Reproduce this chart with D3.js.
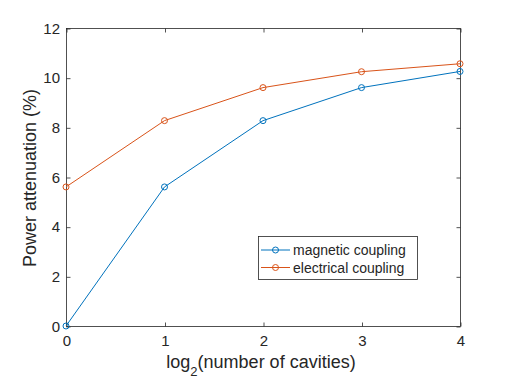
<!DOCTYPE html>
<html><head><meta charset="utf-8">
<script src="https://cdn.jsdelivr.net/npm/d3@7"></script>
<style>body{margin:0;background:#fff}svg{display:block}text{font-family:"Liberation Sans",Arial,sans-serif;fill:#262626}</style>
</head><body><svg id="c" width="508" height="382"></svg>
<script>
const xValues = [0, 1, 2, 3, 4];
const magnetic = [0, 5.6, 8.27, 9.6, 10.25];
const electrical = [5.6, 8.27, 9.6, 10.24, 10.56];
const seriesNames = ["magnetic coupling", "electrical coupling"];
const colors = ["#0072BD", "#D95319"];
const xTicks = [0, 1, 2, 3, 4];
const yTicks = [0, 2, 4, 6, 8, 10, 12];

const svg = d3.select("#c");
const L = 66, R = 460, T = 28, B = 326;
const x = d3.scaleLinear().domain([0, 4]).range([L, R]);
const y = d3.scaleLinear().domain([0, 12]).range([B, T]);
const axisColor = "#262626";

// box
svg.append("rect").attr("x", L + 0.5).attr("y", T + 0.5).attr("width", R - L).attr("height", B - T)
  .attr("fill", "none").attr("stroke", axisColor).attr("stroke-width", 0.8);

const g = svg.append("g");
const xa = g.append("g").attr("transform", `translate(0.5,${B + 0.5})`)
  .call(d3.axisBottom(x).tickValues(xTicks).tickFormat(d3.format("d")).tickSizeInner(-4).tickSizeOuter(0).tickPadding(9));
const ya = g.append("g").attr("transform", `translate(${L + 0.5},0.5)`)
  .call(d3.axisLeft(y).tickValues(yTicks).tickFormat(d3.format("d")).tickSizeInner(-4).tickSizeOuter(0).tickPadding(6.5));
const xt = g.append("g").attr("transform", `translate(0.5,${T + 0.5})`)
  .call(d3.axisTop(x).tickValues(xTicks).tickFormat("").tickSizeInner(-4).tickSizeOuter(0));
const yr = g.append("g").attr("transform", `translate(${R + 0.5},0.5)`)
  .call(d3.axisRight(y).tickValues(yTicks).tickFormat("").tickSizeInner(-4).tickSizeOuter(0));
[xa, ya, xt, yr].forEach(a => {
  a.select(".domain").remove();
  a.selectAll("line").attr("stroke", axisColor).attr("stroke-width", 0.8);
  a.selectAll("text").style("font-size", "15px").attr("fill", axisColor);
});

// labels
const xl = svg.append("text").attr("x", (L + R) / 2 - 2).attr("y", 368).attr("text-anchor", "middle").style("font-size", "18px");
xl.append("tspan").text("log");
xl.append("tspan").attr("dy", 8).style("font-size", "13px").text("2");
xl.append("tspan").attr("dy", -8).text("(number of cavities)");
svg.append("text").attr("transform", `translate(36,${(T + B) / 2 + 1}) rotate(-90)`).attr("text-anchor", "middle")
  .style("font-size", "18px").text("Power attenuation (%)");

// series
const line = d3.line().x((d, i) => x(xValues[i])).y(d => y(d));
[magnetic, electrical].forEach((s, k) => {
  svg.append("path").datum(s).attr("d", line).attr("fill", "none").attr("stroke", colors[k]).attr("stroke-width", 1);
  svg.selectAll(null).data(s).enter().append("circle")
    .attr("cx", (d, i) => x(xValues[i])).attr("cy", d => y(d)).attr("r", 3)
    .attr("fill", "none").attr("stroke", colors[k]).attr("stroke-width", 1);
});

// legend
const lx = 258, ly = 236, lw = 159, lh = 43;
svg.append("rect").attr("x", lx + 0.5).attr("y", ly + 0.5).attr("width", lw).attr("height", lh)
  .attr("fill", "#fff").attr("stroke", axisColor).attr("stroke-width", 0.8);
seriesNames.forEach((n, k) => {
  const yy = ly + 14 + k * 17.5;
  svg.append("line").attr("x1", lx + 3).attr("x2", lx + 32).attr("y1", yy).attr("y2", yy).attr("stroke", colors[k]);
  svg.append("circle").attr("cx", lx + 17.5).attr("cy", yy).attr("r", 3).attr("fill", "none").attr("stroke", colors[k]);
  svg.append("text").attr("x", lx + 35).attr("y", yy + 5).style("font-size", "14px").text(n);
});
</script></body></html>
